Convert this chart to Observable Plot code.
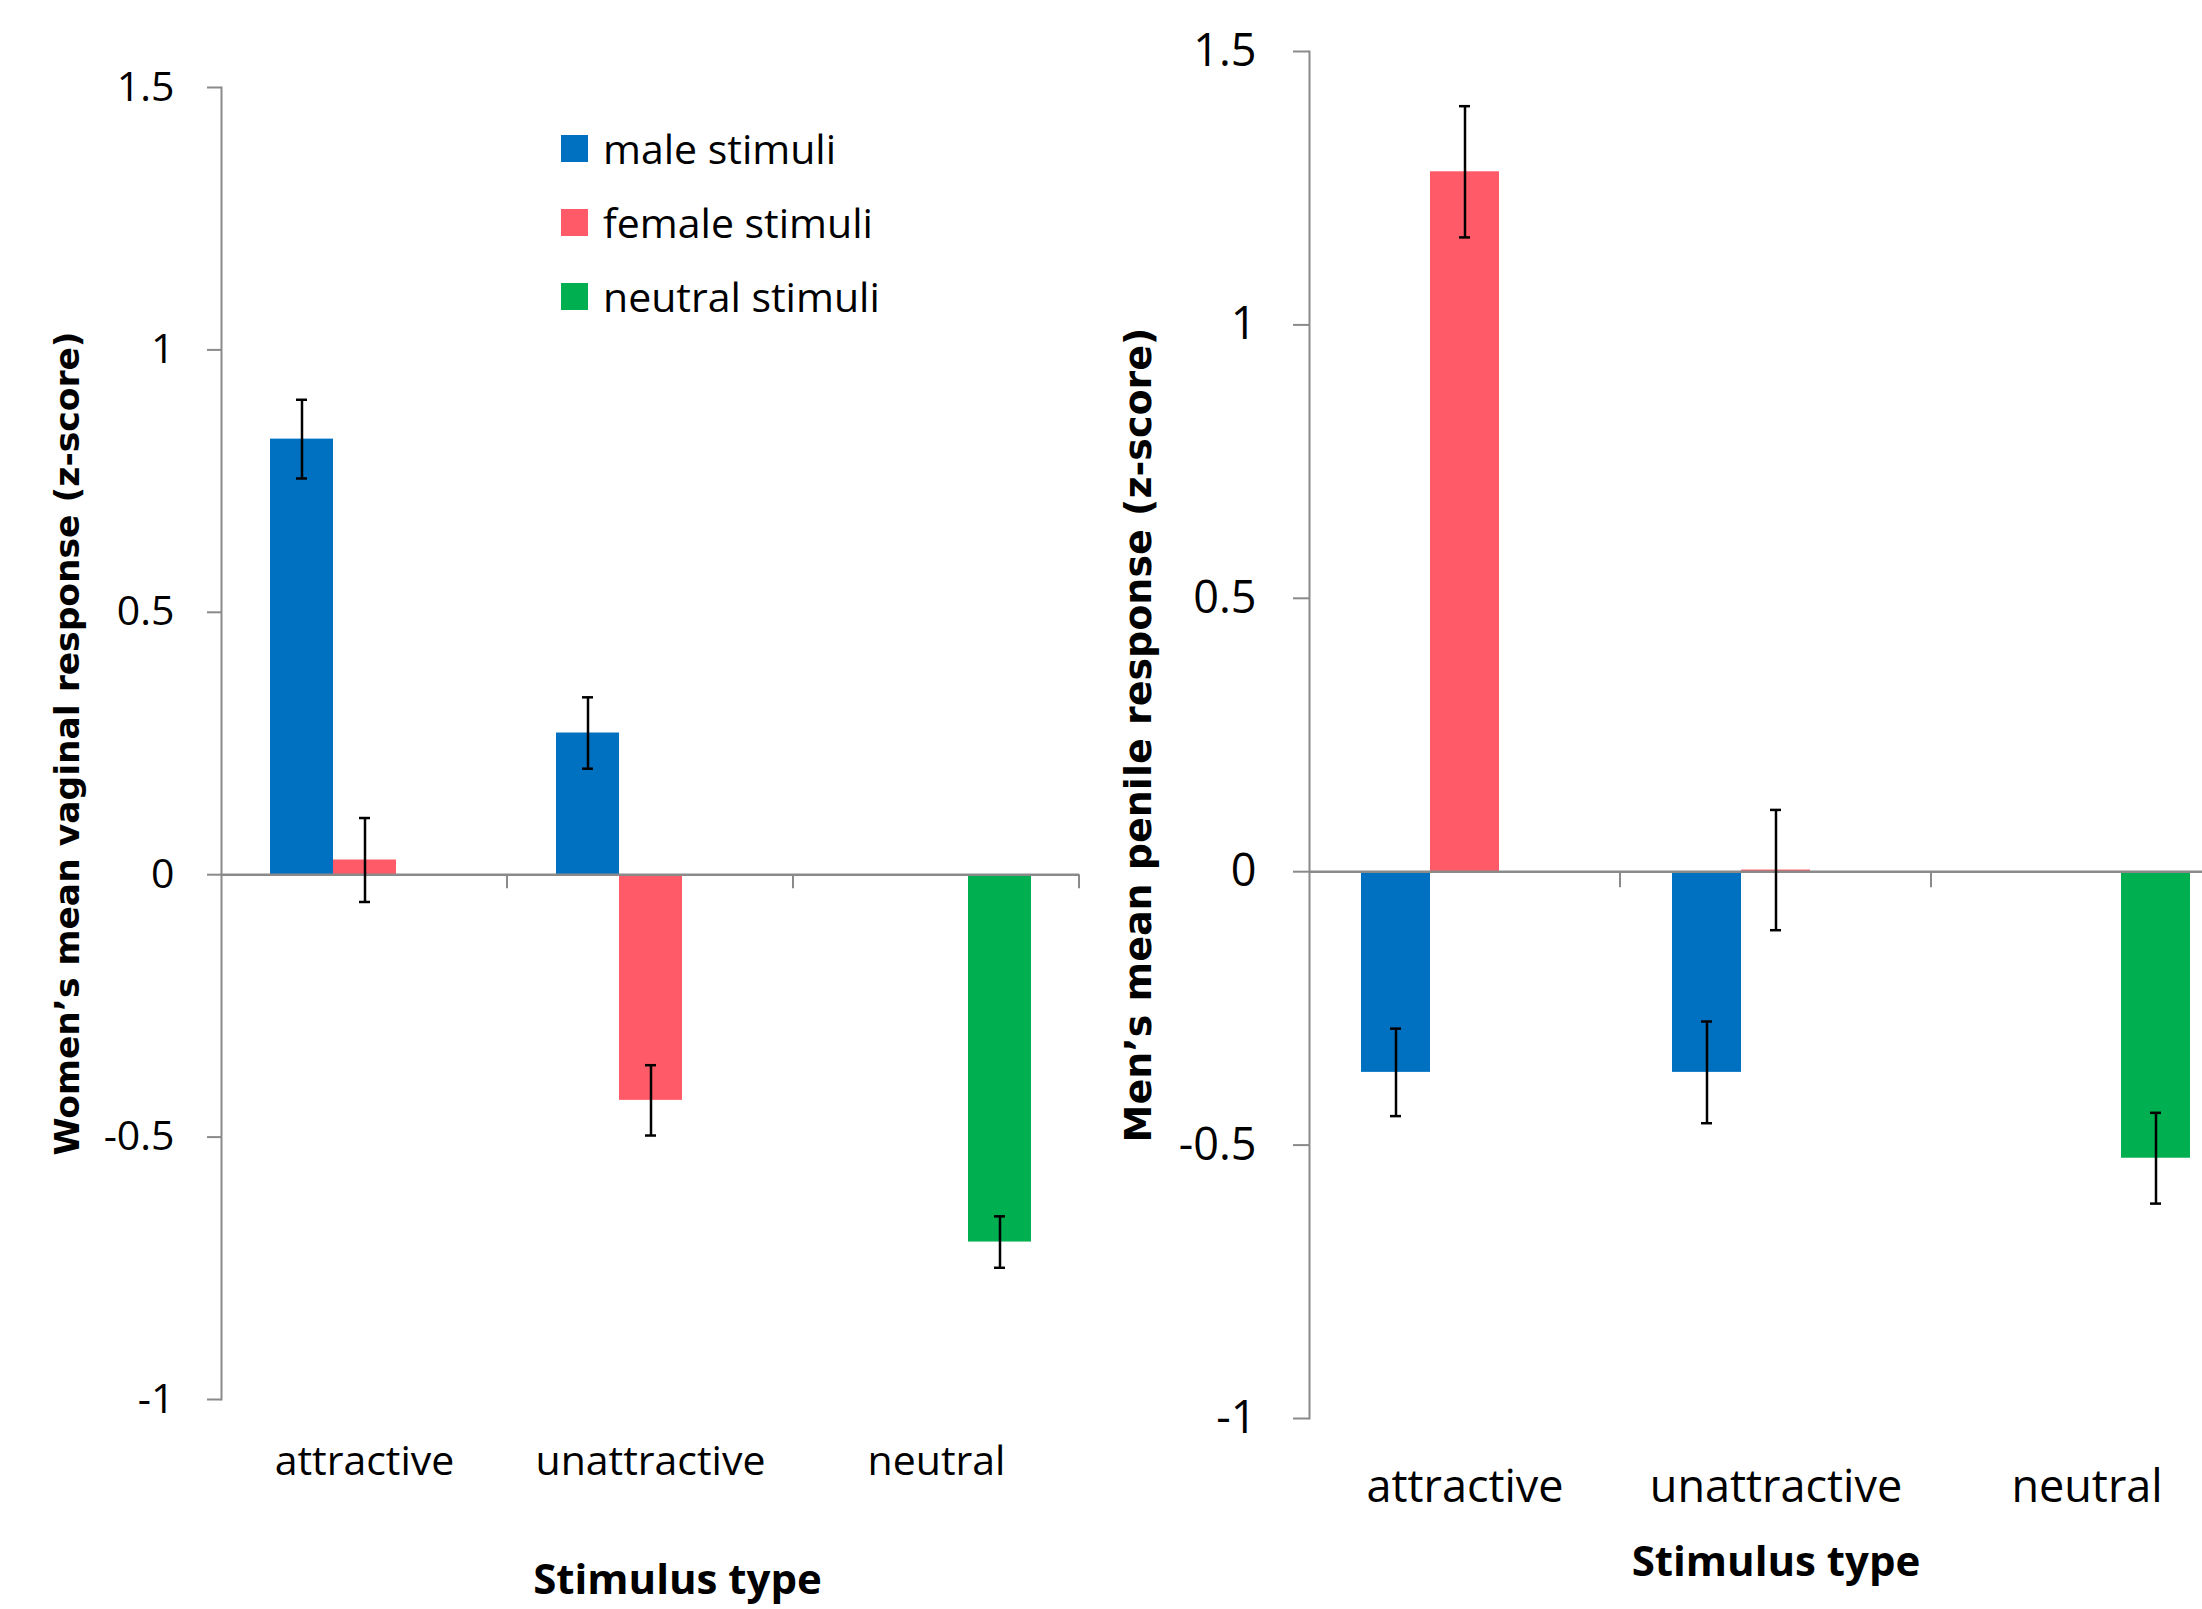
<!DOCTYPE html>
<html>
<head>
<meta charset="utf-8">
<script src="https://cdn.jsdelivr.net/npm/d3@7"></script>
<script src="https://cdn.jsdelivr.net/npm/@observablehq/plot@0.6"></script>
<style>
  html, body { margin: 0; padding: 0; background: #fff; }
  body { width: 2202px; height: 1609px; overflow: hidden; position: relative; font-family: "Open Sans", sans-serif; }
  #left { position: absolute; left: 0; top: 0; width: 1100px; height: 1609px; }
  #right { position: absolute; left: 1100px; top: 0; width: 1102px; height: 1609px; overflow: hidden; }
  #left svg, #right svg { max-width: none !important; }
  #right svg { width: 1142px !important; height: 1609px !important; }
  #legend { position: absolute; left: 561px; top: 111px; }
  #legend .lg-swatch { height: 74px !important; margin: 0 !important; padding: 0 !important; display: flex !important; align-items: center !important; }
  #legend .lg-swatch svg { margin-right: 15px !important; }
  [aria-label="fx-axis label"] { font-weight: bold; font-size: 42px; }
  #left [aria-label="fx-axis label"] { translate: 27px 0; }
  [aria-label="y-axis label"] { font-family: "DejaVu Sans", sans-serif; font-weight: bold; }
  #left [aria-label="y-axis label"] { font-size: 34.5px; }
  #right [aria-label="y-axis label"] { font-size: 38px; }
</style>
</head>
<body>
<div id="left"></div>
<div id="right"></div>
<div id="legend"></div>
<script>
// ---------- data ----------
const categories = ["attractive", "unattractive", "neutral"];
const series = ["male stimuli", "female stimuli", "neutral stimuli"];
const colors = ["#0070C0", "#FF5A67", "#00B050"];
const yTicks = [-1, -0.5, 0, 0.5, 1, 1.5];
const xTitle = "Stimulus type";

// Women (left panel): means and error-bar half-lengths per category
const womenMale = [0.83, 0.27, null];
const womenMaleErr = [0.075, 0.068, null];
const womenFemale = [0.028, -0.43, null];
const womenFemaleErr = [0.08, 0.067, null];
const womenNeutral = [null, null, -0.70];
const womenNeutralErr = [null, null, 0.049];
const womenTitle = "Women\u2019s mean vaginal response (z-score)";

// Men (right panel)
const menMale = [-0.367, -0.367, null];
const menMaleErr = [0.08, 0.093, null];
const menFemale = [1.28, 0.003, null];
const menFemaleErr = [0.12, 0.11, null];
const menNeutral = [null, null, -0.524];
const menNeutralErr = [null, null, 0.083];
const menTitle = "Men\u2019s mean penile response (z-score)";

// ---------- helpers ----------
const AXIS = "#8a8a8a";

function rows(vals, errs) {
  const out = [];
  series.forEach((s, si) => categories.forEach((c, ci) => {
    const v = vals[si][ci];
    if (v != null) {
      const e = errs[si][ci];
      out.push({category: c, series: s, value: v, lo: v - e, hi: v + e});
    }
  }));
  return out;
}

// short tick marks below the zero line at the right edge of each category band
function boundaryTicks(len) {
  return (index, scales, values, dimensions) => {
    const xr = dimensions.width - dimensions.marginRight;
    const y0 = scales.y(0);
    const g = d3.create("svg:g");
    g.append("line")
      .attr("x1", xr).attr("x2", xr)
      .attr("y1", y0).attr("y2", y0 + len)
      .attr("stroke", AXIS).attr("stroke-width", 2);
    return g.node();
  };
}

function panel(o) {
  const data = o.data;
  return Plot.plot({
    width: o.width, height: o.height,
    marginLeft: o.marginLeft, marginRight: o.marginRight,
    marginTop: o.marginTop, marginBottom: o.marginBottom,
    style: {fontFamily: "'Open Sans', sans-serif", fontSize: o.fontSize + "px", color: "black", background: "white", overflow: "visible", maxWidth: "none"},
    fx: {domain: categories, padding: 0},
    x: {domain: series, paddingInner: 0, paddingOuter: 0.735, axis: null},
    y: {domain: [-1, 1.5]},
    color: {domain: series, range: colors},
    marks: [
      Plot.frame({anchor: "left", facetAnchor: "left", stroke: AXIS, strokeWidth: 2}),
      Plot.barY(data, {fx: "category", x: "series", y: "value", fill: "series"}),
      Plot.ruleY([0], {stroke: AXIS, strokeWidth: 2.5}),
      boundaryTicks(o.tickSize),
      Plot.ruleX(data, {fx: "category", x: "series", y1: "lo", y2: "hi", stroke: "black", strokeWidth: 2.5}),
      Plot.tickY(data, {fx: "category", x: "series", y: "lo", insetLeft: o.capInset, insetRight: o.capInset, stroke: "black", strokeWidth: 2.5}),
      Plot.tickY(data, {fx: "category", x: "series", y: "hi", insetLeft: o.capInset, insetRight: o.capInset, stroke: "black", strokeWidth: 2.5}),
      Plot.axisY({
        ticks: yTicks, tickFormat: d => String(d),
        tickSize: o.tickSize, tickPadding: o.tickPadding,
        stroke: AXIS, strokeWidth: 2, fill: "black", fontSize: o.fontSize,
        label: o.yLabel, labelAnchor: "center", labelOffset: o.yLabelOffset, labelArrow: "none"
      }),
      Plot.axisFx({
        anchor: "bottom", tickSize: 0, tickPadding: o.catPadding, fontSize: o.fontSize, fill: "black",
        label: xTitle, labelAnchor: "center", labelOffset: o.xLabelOffset, labelArrow: "none"
      })
    ]
  });
}

// ---------- left panel ----------
const womenData = rows([womenMale, womenFemale, womenNeutral], [womenMaleErr, womenFemaleErr, womenNeutralErr]);
document.getElementById("left").append(panel({
  data: womenData,
  width: 1100, height: 1609,
  marginLeft: 221, marginRight: 21, marginTop: 87, marginBottom: 210,
  fontSize: 41, tickSize: 14, tickPadding: 33, catPadding: 46, capInset: 26,
  yLabel: womenTitle, yLabelOffset: 167, xLabelOffset: 194
}));

// ---------- right panel ----------
const menData = rows([menMale, menFemale, menNeutral], [menMaleErr, menFemaleErr, menNeutralErr]);
document.getElementById("right").append(panel({
  data: menData,
  width: 1142, height: 1609,
  marginLeft: 209, marginRight: 0, marginTop: 51, marginBottom: 191,
  fontSize: 45, tickSize: 16, tickPadding: 37, catPadding: 52, capInset: 29,
  yLabel: menTitle, yLabelOffset: 185, xLabelOffset: 157
}));

// ---------- legend ----------
document.getElementById("legend").append(Plot.legend({
  color: {domain: series, range: colors},
  legend: "swatches",
  columns: 1,
  swatchSize: 27,
  className: "lg",
  style: {fontFamily: "'Open Sans', sans-serif", fontSize: "41px", color: "black"}
}));
</script>
</body>
</html>
